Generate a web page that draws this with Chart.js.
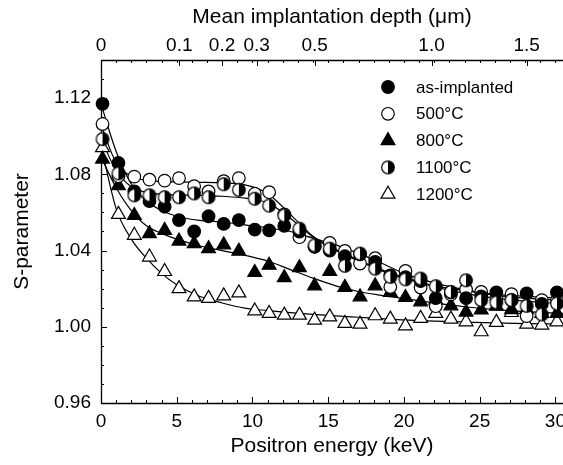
<!DOCTYPE html>
<html>
<head>
<meta charset="utf-8">
<script src="https://cdn.jsdelivr.net/npm/chart.js@4.4.0/dist/chart.umd.min.js"></script>
<style>
  html, body { margin: 0; padding: 0; background: #fff; overflow: hidden; }
  canvas { display: block; }
</style>
</head>
<body>
<canvas id="sChart" width="563" height="465"></canvas>
<script>
// beam energies of the measured points (keV)
const energy = [0.1, 1.15, 2.2, 3.2, 4.2, 5.15, 6.15, 7.1, 8.1, 9.1, 10.15, 11.1, 12.1, 13.1, 14.1, 15.1,
  16.1, 17.1, 18.1, 19.1, 20.1, 21.1, 22.1, 23.1, 24.1, 25.1, 26.1, 27.1, 28.1, 29.1, 30.1];

// S-parameter, one list per sample
const sAsImplanted = [1.117, 1.086, 1.071, 1.066, 1.063, 1.056, 1.050, 1.058, 1.054, 1.056, 1.051, 1.0506, 1.053, 1.050, 1.042, 1.040,
  1.037, 1.038, 1.034, 1.027, 1.026, 1.024, 1.015, 1.018, 1.015, 1.016, 1.018, 1.014, 1.0175, 1.012, 1.018];
const s500 = [1.1064, 1.079, 1.0788, 1.0772, 1.0767, 1.078, 1.0738, 1.071, 1.0764, 1.078, 1.0698, 1.0706, 1.059, 1.047, 1.042, 1.044,
  1.0398, 1.0332, 1.036, 1.0209, 1.0293, 1.0206, 1.0108, 1.017, 1.0196, 1.0183, 1.015, 1.0171, 1.0056, 1.014, 1.014];
const s800 = [1.088, 1.074, 1.0584, 1.0489, 1.0506, 1.045, 1.0436, 1.041, 1.043, 1.0397, 1.0285, 1.0323, 1.0258, 1.031, 1.0215, 1.029,
  1.0207, 1.0157, 1.0215, 1.018, 1.0154, 1.0131, 1.014, 1.011, 1.0077, 1.0088, 1.0108, 1.009, 1.009, 1.007, 1.007];
const s1100 = [1.0985, 1.0805, 1.069, 1.069, 1.068, 1.068, 1.070, 1.068, 1.0748, 1.0719, 1.0672, 1.0636, 1.0584, 1.0515, 1.0427, 1.041,
  1.032, 1.0384, 1.0305, 1.0262, 1.0249, 1.0253, 1.0213, 1.0183, 1.0244, 1.014, 1.0128, 1.014, 1.011, 1.0065, 1.0122];
const s1200 = [1.094, 1.059, 1.048, 1.0366, 1.029, 1.020, 1.0157, 1.0149, 1.0162, 1.0178, 1.0083, 1.007, 1.0061, 1.0061, 1.0035, 1.0052,
  1.0018, 1.0014, 1.0058, 1.004, 1.0005, 1.0044, 1.007, 1.004, 1.0026, 0.9974, 1.0023, 1.0075, 1.0014, 1.0009, 1.0026];

// fitted curves
const fitEnergy = [0, 1, 2, 3, 4, 5, 6.5, 8, 9.5, 11, 12.5, 14, 15.5, 17, 18.5, 20, 22, 24, 26, 28, 30.5];
const fitAsImplanted = [1.117, 1.092, 1.075, 1.066, 1.061, 1.058, 1.0558, 1.055, 1.0535, 1.052, 1.050, 1.0465, 1.043, 1.0385, 1.0335, 1.028, 1.023, 1.0195, 1.017, 1.016, 1.015];
const fit500 = [1.106, 1.086, 1.079, 1.0768, 1.0762, 1.076, 1.0758, 1.0755, 1.0745, 1.070, 1.059, 1.0475, 1.0405, 1.035, 1.030, 1.026, 1.0215, 1.019, 1.0165, 1.015, 1.014];
const fit800 = [1.089, 1.073, 1.061, 1.053, 1.049, 1.046, 1.0425, 1.040, 1.0375, 1.0345, 1.030, 1.0255, 1.0215, 1.0185, 1.0165, 1.0148, 1.0125, 1.0105, 1.009, 1.008, 1.007];
const fit1100 = [1.0985, 1.082, 1.0735, 1.0705, 1.0695, 1.0692, 1.069, 1.0685, 1.0675, 1.065, 1.057, 1.047, 1.040, 1.0345, 1.0295, 1.0255, 1.021, 1.0175, 1.015, 1.0135, 1.012];
const fit1200 = [1.095, 1.062, 1.046, 1.036, 1.028, 1.022, 1.016, 1.0125, 1.0098, 1.0085, 1.0074, 1.0065, 1.0057, 1.005, 1.0043, 1.0036, 1.003, 1.0025, 1.002, 1.0017, 1.0015];

// axis ticks
const energyTicks = [0, 5, 10, 15, 20, 25, 30];
const sTicks = [0.96, 1.00, 1.04, 1.08, 1.12];
const depthTickEnergy = [0, 5.17, 7.99, 10.28, 14.11, 21.82, 28.1];
const depthTickLabels = ['0', '0.1', '0.2', '0.3', '0.5', '1.0', '1.5'];

const legendLabels = ['as-implanted', '500\u00B0C', '800\u00B0C', '1100\u00B0C', '1200\u00B0C'];

const FONT = "'Liberation Sans', Arial, Helvetica, sans-serif";
Chart.defaults.font.family = FONT;
Chart.defaults.color = '#000';

// half filled circle marker (left white, right black)
function halfCircle() {
  const c = document.createElement('canvas');
  c.width = 16; c.height = 16;
  const g = c.getContext('2d');
  g.beginPath(); g.arc(8, 8, 6.3, 0, Math.PI * 2); g.fillStyle = '#fff'; g.fill();
  g.beginPath(); g.arc(8, 8, 6.3, -Math.PI / 2, Math.PI / 2); g.closePath(); g.fillStyle = '#000'; g.fill();
  g.beginPath(); g.arc(8, 8, 6.3, 0, Math.PI * 2); g.lineWidth = 1.2; g.strokeStyle = '#000'; g.stroke();
  return c;
}
const half = halfCircle();

const pts = (xs, ys) => xs.map((e, i) => ({x: e, y: ys[i]}));

const markerSets = [
  {data: pts(energy, sAsImplanted), pointStyle: 'circle', pointRadius: 6.3, fill: '#000'},
  {data: pts(energy, s500), pointStyle: 'circle', pointRadius: 6.3, fill: '#fff'},
  {data: pts(energy, s800), pointStyle: 'triangle', pointRadius: 8, fill: '#000'},
  {data: pts(energy, s1100), pointStyle: half, pointRadius: 6.3, fill: '#fff'},
  {data: pts(energy, s1200), pointStyle: 'triangle', pointRadius: 8, fill: '#fff'}
];
const fits = [fitAsImplanted, fit500, fit800, fit1100, fit1200];

const datasets = [];
[3, 0, 1, 2, 4].forEach(i => {
  const m = markerSets[i];
  datasets.push({
    label: legendLabels[i],
    data: m.data,
    showLine: false,
    pointStyle: m.pointStyle,
    pointRadius: m.pointRadius,
    pointHoverRadius: m.pointRadius,
    backgroundColor: m.fill,
    borderColor: '#000',
    pointBorderWidth: 1.2,
    clip: false
  });
});
fits.forEach(f => {
  datasets.push({
    data: pts(fitEnergy, f),
    showLine: true,
    pointRadius: 0,
    borderColor: '#000',
    borderWidth: 1.2,
    cubicInterpolationMode: 'monotone',
    fill: false
  });
});

// frame and inward tick marks
const frame = {
  id: 'frame',
  beforeDatasetsDraw(chart) {
    const {ctx, chartArea: a, scales: {x, y}} = chart;
    ctx.save();
    ctx.strokeStyle = '#000';
    ctx.lineWidth = 1.3;
    ctx.beginPath();
    ctx.moveTo(a.right, a.top + 0.5);
    ctx.lineTo(a.left + 0.5, a.top + 0.5);
    ctx.lineTo(a.left + 0.5, a.bottom + 0.5);
    ctx.lineTo(a.right, a.bottom + 0.5);
    ctx.stroke();
    ctx.lineWidth = 1;
    ctx.beginPath();
    for (let v = 0; v <= 30; v++) {
      const px = Math.round(x.getPixelForValue(v)) + 0.5;
      const len = v % 5 === 0 ? 6 : 3;
      ctx.moveTo(px, a.bottom); ctx.lineTo(px, a.bottom - len);
      if (v > 0) { ctx.moveTo(px, a.top); ctx.lineTo(px, a.top + 3); }
    }
    depthTickEnergy.forEach(e => {
      const px = Math.round(x.getPixelForValue(e)) + 0.5;
      ctx.moveTo(px, a.top); ctx.lineTo(px, a.top + 6);
    });
    for (let k = 0; k <= 18; k++) {
      const py = Math.round(y.getPixelForValue(0.96 + k * 0.01)) + 0.5;
      const len = k % 4 === 0 ? 6 : 3;
      ctx.moveTo(a.left, py); ctx.lineTo(a.left + len, py);
    }
    ctx.stroke();
    ctx.restore();
  }
};

// legend inside the plot, top right
const legendBox = {
  id: 'legendBox',
  afterDraw(chart) {
    const ctx = chart.ctx;
    ctx.save();
    markerSets.forEach((m, i) => {
      const cx = 388, cy = 87 + i * 26.8;
      ctx.strokeStyle = '#000';
      ctx.lineWidth = 1.2;
      ctx.fillStyle = m.fill;
      if (m.pointStyle === 'circle') {
        ctx.beginPath(); ctx.arc(cx, cy, m.pointRadius, 0, Math.PI * 2); ctx.fill(); ctx.stroke();
      } else if (m.pointStyle === 'triangle') {
        const r = m.pointRadius;
        ctx.beginPath();
        for (let k = 0; k < 3; k++) {
          const ang = k * 2 * Math.PI / 3;
          const px = cx + Math.sin(ang) * r, py = cy - Math.cos(ang) * r;
          if (k === 0) ctx.moveTo(px, py); else ctx.lineTo(px, py);
        }
        ctx.closePath(); ctx.fill(); ctx.stroke();
      } else {
        ctx.drawImage(half, cx - 8, cy - 8);
      }
      ctx.fillStyle = '#000';
      ctx.font = '17px ' + FONT;
      ctx.textAlign = 'left';
      ctx.textBaseline = 'middle';
      ctx.fillText(legendLabels[i], 416, cy + 1);
    });
    ctx.restore();
  }
};

new Chart(document.getElementById('sChart'), {
  type: 'scatter',
  data: {datasets: datasets},
  options: {
    responsive: false,
    animation: false,
    devicePixelRatio: 1,
    layout: {padding: 0, autoPadding: false},
    plugins: {legend: {display: false}, tooltip: {enabled: false}},
    scales: {
      x: {
        type: 'linear', position: 'bottom', min: 0, max: 30.5,
        grid: {display: false, drawTicks: false}, border: {display: false},
        afterBuildTicks: s => { s.ticks = energyTicks.map(v => ({value: v})); },
        afterFit: s => { s.height = 62; s.paddingLeft = 0; s.paddingRight = 0; },
        ticks: {autoSkip: false, maxRotation: 0, padding: 7, font: {size: 19}, callback: v => String(v)},
        title: {display: true, text: 'Positron energy (keV)', font: {size: 21}, padding: {top: 0, bottom: 6}}
      },
      x2: {
        type: 'linear', position: 'top', min: 0, max: 30.5,
        grid: {display: false, drawTicks: false}, border: {display: false},
        afterBuildTicks: s => { s.ticks = depthTickEnergy.map(v => ({value: v})); },
        afterFit: s => { s.height = 60; s.paddingLeft = 0; s.paddingRight = 0; },
        ticks: {autoSkip: false, maxRotation: 0, padding: 3, font: {size: 19}, callback: (v, i) => depthTickLabels[i]},
        title: {display: true, text: 'Mean implantation depth (\u03BCm)', font: {size: 21}, padding: {top: 5, bottom: 0}}
      },
      y: {
        type: 'linear', position: 'left', min: 0.96, max: 1.14,
        grid: {display: false, drawTicks: false}, border: {display: false},
        afterBuildTicks: s => { s.ticks = sTicks.map(v => ({value: v})); },
        afterFit: s => { s.width = 101; s.paddingTop = 0; s.paddingBottom = 0; },
        ticks: {autoSkip: false, padding: 10, font: {size: 19}, callback: v => v.toFixed(2)},
        title: {display: true, text: 'S-parameter', font: {size: 21}, padding: {top: 10, bottom: 0}}
      }
    }
  },
  plugins: [frame, legendBox]
});
</script>
</body>
</html>
